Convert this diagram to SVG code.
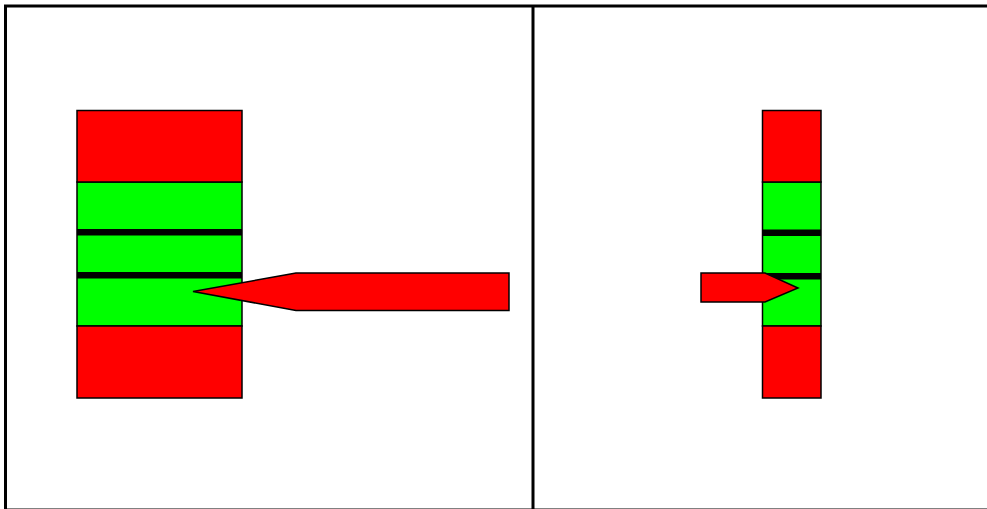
<svg xmlns="http://www.w3.org/2000/svg" width="987" height="509" viewBox="0 0 987 509">
<style>
.frame{fill:none;stroke:#000;stroke-width:3}
.red{fill:#ff0000;stroke:#000;stroke-width:1.5}
.green{fill:#00ff00;stroke:#000;stroke-width:1.5}
.bar{fill:#000}
</style>
<rect x="0" y="0" width="987" height="509" fill="#fff"/>
<g id="frame">
<rect class="frame" x="5.5" y="6" width="1100" height="504"/>
<line x1="533" y1="6" x2="533" y2="512" stroke="#000" stroke-width="3"/>
</g>
<g id="left-stack">
<rect class="green" x="77" y="182" width="165" height="144"/>
<rect class="bar" x="77" y="229" width="165" height="6.5"/>
<rect class="bar" x="77" y="272" width="165" height="6.5"/>
<rect class="red" x="77" y="110.5" width="165" height="71.5"/>
<rect class="red" x="77" y="326" width="165" height="72"/>
</g>
<g id="right-stack">
<rect class="green" x="762.5" y="182" width="58.5" height="144"/>
<rect class="bar" x="762.5" y="229.5" width="58.5" height="6.5"/>
<rect class="bar" x="762.5" y="273" width="58.5" height="6.5"/>
<rect class="red" x="762.5" y="110.5" width="58.5" height="71.5"/>
<rect class="red" x="762.5" y="326" width="58.5" height="72"/>
</g>
<g id="connectors">
<polygon id="left-arrow" class="red" points="193,291.5 296,273 509,273 509,310.5 296,310.5"/>
<polygon id="right-arrow" class="red" points="701,273 765,273 798,288 765,302 701,302"/>
</g>
</svg>
